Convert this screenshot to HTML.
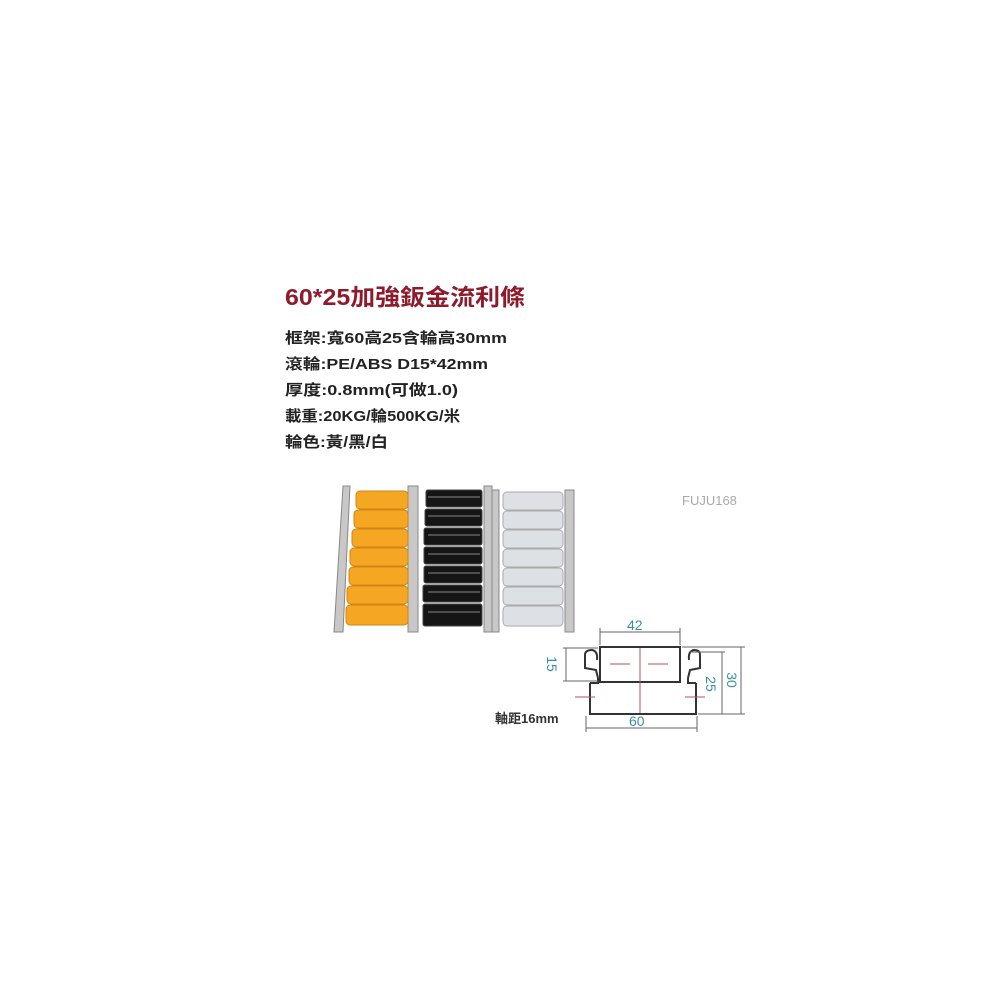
<!DOCTYPE html>
<html><head><meta charset="utf-8"><style>
html,body{margin:0;padding:0;background:#fff;}
svg{display:block}
text{font-family:"Liberation Sans","Noto Sans CJK TC",sans-serif;}
</style></head><body>
<svg width="1000" height="1000" viewBox="0 0 1000 1000" xmlns="http://www.w3.org/2000/svg">
<rect width="1000" height="1000" fill="#fff"/>
<text x="285" y="305" font-size="23" font-weight="bold" fill="#8e1b2c" textLength="240" lengthAdjust="spacingAndGlyphs">60*25加強鈑金流利條</text>
<g font-size="15" font-weight="bold" fill="#222">
<text x="285" y="343" textLength="222" lengthAdjust="spacingAndGlyphs">框架:寬60高25含輪高30mm</text>
<text x="285" y="369" textLength="203" lengthAdjust="spacingAndGlyphs">滾輪:PE/ABS D15*42mm</text>
<text x="285" y="395" textLength="173" lengthAdjust="spacingAndGlyphs">厚度:0.8mm(可做1.0)</text>
<text x="285" y="421" textLength="175" lengthAdjust="spacingAndGlyphs">載重:20KG/輪500KG/米</text>
<text x="285" y="447" textLength="103" lengthAdjust="spacingAndGlyphs">輪色:黃/黑/白</text>
</g>
<text x="682" y="505" font-size="13" fill="#aaa">FUJU168</text>

<g fill="#c8c8c8" stroke="#888" stroke-width="1">
<polygon points="343,486 350,486 343,632 334,632"/>
<rect x="408" y="486" width="10" height="146"/>
<rect x="484" y="486" width="8" height="146"/>
<rect x="492" y="490" width="7" height="142"/>
<rect x="565" y="490" width="9" height="142"/>
</g>
<g fill="#f5a623" stroke="#d08515" stroke-width="1">
<rect x="356" y="491" width="52" height="18" rx="4"/>
<rect x="354" y="510" width="54" height="18" rx="4"/>
<rect x="352" y="529" width="56" height="18" rx="4"/>
<rect x="350" y="548" width="58" height="18" rx="4"/>
<rect x="349" y="567" width="59" height="18" rx="4"/>
<rect x="347" y="586" width="61" height="18" rx="4"/>
<rect x="346" y="605" width="62" height="20" rx="4"/>
</g>
<g fill="#151515" stroke="#444" stroke-width="1">
<rect x="426" y="490" width="56" height="17" rx="2"/>
<rect x="425" y="509" width="57" height="17" rx="2"/>
<rect x="424" y="528" width="58" height="17" rx="2"/>
<rect x="424" y="547" width="58" height="17" rx="2"/>
<rect x="424" y="566" width="58" height="17" rx="2"/>
<rect x="423" y="585" width="59" height="17" rx="2"/>
<rect x="423" y="604" width="59" height="22" rx="2"/>
</g>
<g stroke="#888" stroke-width="1">
<line x1="428" y1="497" x2="480" y2="497"/><line x1="428" y1="516" x2="480" y2="516"/>
<line x1="428" y1="535" x2="480" y2="535"/><line x1="428" y1="554" x2="480" y2="554"/>
<line x1="428" y1="573" x2="480" y2="573"/><line x1="428" y1="592" x2="480" y2="592"/>
<line x1="428" y1="612" x2="480" y2="612"/>
</g>
<g fill="#dde0e4" stroke="#aaa" stroke-width="1">
<rect x="503" y="492" width="60" height="18" rx="4"/>
<rect x="503" y="511" width="60" height="18" rx="4"/>
<rect x="503" y="530" width="60" height="18" rx="4"/>
<rect x="503" y="549" width="60" height="18" rx="4"/>
<rect x="503" y="568" width="60" height="18" rx="4"/>
<rect x="503" y="587" width="60" height="18" rx="4"/>
<rect x="503" y="606" width="60" height="20" rx="4"/>
</g>

<g fill="none" stroke="#333" stroke-width="2">
<rect x="600" y="647" width="80" height="35" fill="#fff"/>
<path d="M590,683 L590,714 L696,714 L696,683"/>
<path d="M590,683 L598,683 L598,678"/>
<path d="M696,683 L688,683 L688,678"/>
<path d="M585,655 L585,668 L596,670 L598,678"/>
<path d="M700,655 L700,668 L690,670 L688,678"/>
<path d="M585,655 Q585,650 592,650 Q598,651 597,660"/>
<path d="M700,655 Q700,650 694,650 Q688,651 689,660"/>
</g>
<g stroke="#b05060" stroke-width="1">
<line x1="640" y1="648" x2="640" y2="713"/>
<line x1="610" y1="664" x2="630" y2="664"/>
<line x1="648" y1="664" x2="668" y2="664"/>
<line x1="575" y1="697" x2="595" y2="697"/>
<line x1="685" y1="697" x2="705" y2="697"/>
</g>
<g stroke="#666" stroke-width="1">
<line x1="600" y1="645" x2="600" y2="628"/><line x1="680" y1="645" x2="680" y2="628"/>
<line x1="600" y1="632" x2="680" y2="632"/>
<line x1="563" y1="648" x2="598" y2="648"/><line x1="563" y1="681" x2="598" y2="681"/>
<line x1="566" y1="648" x2="566" y2="681"/>
<line x1="690" y1="652" x2="725" y2="652"/><line x1="698" y1="714" x2="745" y2="714"/>
<line x1="722" y1="652" x2="722" y2="714"/>
<line x1="682" y1="647" x2="745" y2="647"/>
<line x1="741" y1="647" x2="741" y2="714"/>
<line x1="586" y1="716" x2="586" y2="732"/><line x1="697" y1="716" x2="697" y2="732"/>
<line x1="586" y1="728" x2="697" y2="728"/>
</g>
<g fill="#3a8fa0" font-size="14">
<text x="627" y="630">42</text>
<text x="629" y="726">60</text>
<text transform="translate(547,664) rotate(90)" text-anchor="middle">15</text>
<text transform="translate(706,684) rotate(90)" text-anchor="middle">25</text>
<text transform="translate(727,680) rotate(90)" text-anchor="middle">30</text>
</g>
<text x="495" y="723" font-size="13" font-weight="bold" fill="#333">軸距16mm</text>
</svg>
</body></html>
